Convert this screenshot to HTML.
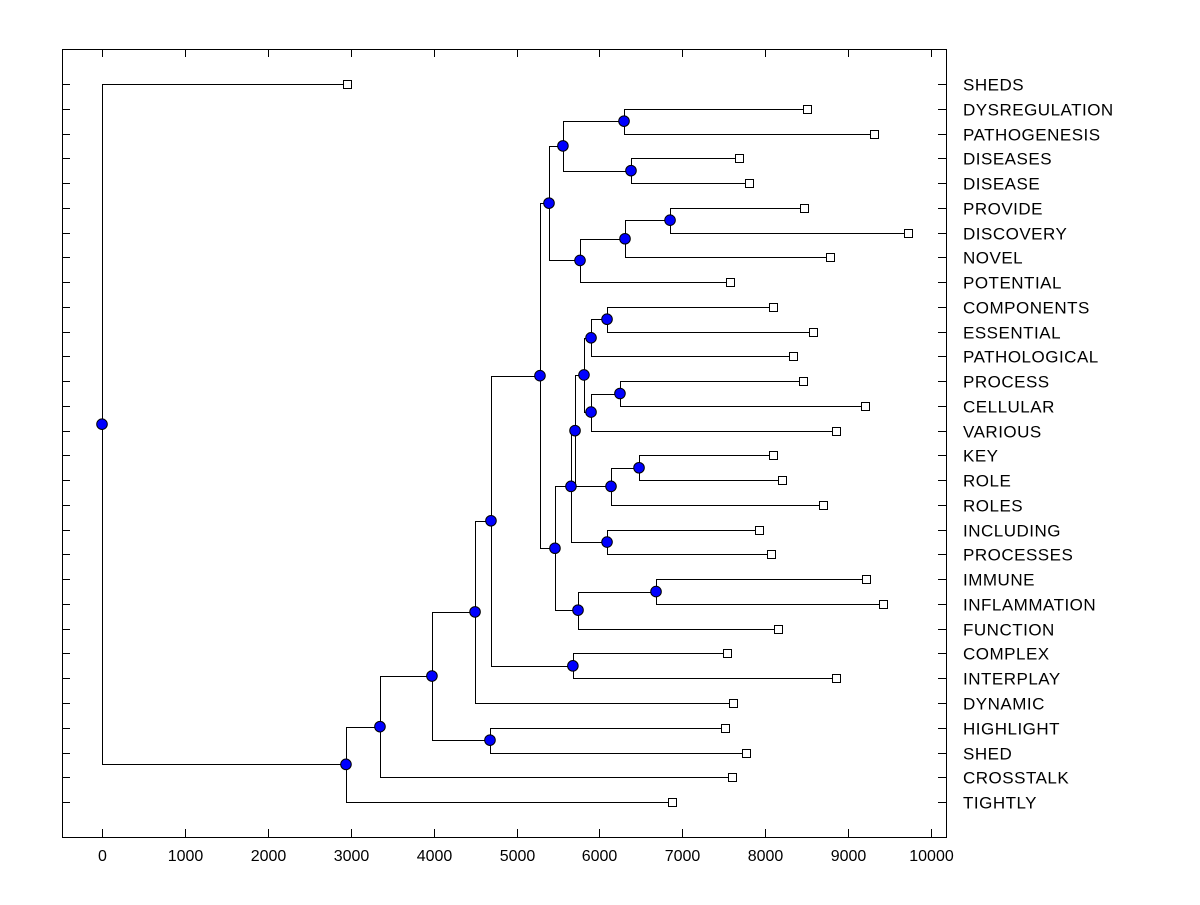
<!DOCTYPE html>
<html><head><meta charset="utf-8"><style>
body{margin:0;background:#fff;}
svg text{font-family:"Liberation Sans",Arial,sans-serif;font-size:16px;fill:#000;}
svg text.leaf{font-size:17px;letter-spacing:0.5px;}
</style></head><body>
<svg id="chart" width="1200" height="900" xmlns="http://www.w3.org/2000/svg"></svg>
<script>
const leafNames=["SHEDS","DYSREGULATION","PATHOGENESIS","DISEASES","DISEASE","PROVIDE","DISCOVERY","NOVEL","POTENTIAL","COMPONENTS","ESSENTIAL","PATHOLOGICAL","PROCESS","CELLULAR","VARIOUS","KEY","ROLE","ROLES","INCLUDING","PROCESSES","IMMUNE","INFLAMMATION","FUNCTION","COMPLEX","INTERPLAY","DYNAMIC","HIGHLIGHT","SHED","CROSSTALK","TIGHTLY"];
const leafValues=[2950,8500,9310,7680,7810,8470,9720,8780,7580,8090,8580,8330,8450,9200,8850,8100,8200,8700,7920,8070,9210,9420,8150,7540,8850,7610,7520,7770,7600,6870];
// internal nodes: id, value, children (L# = leaf index, N# = node id)
const nodeIds=["M","N","K","P","O","L","I","AA","Y","BB","Z","X","W","V","T","U","Q","S","R","J","G","H","F","D","E","C","B","A","ROOT"];
const nodeValues=[6297,6381,5560,6852,6309,5766,5392,6092,5899,6248,5899,5814,6478,6140,5706,6092,5657,6683,5742,5464,5283,5680,4692,4500,4680,3980,3353,2943,0];
const nodeChildren=[["L1","L2"],["L3","L4"],["NM","NN"],["L5","L6"],["NP","L7"],["NO","L8"],["NK","NL"],["L9","L10"],["NAA","L11"],["L12","L13"],["NBB","L14"],["NY","NZ"],["L15","L16"],["NW","L17"],["NX","NV"],["L18","L19"],["NT","NU"],["L20","L21"],["NS","L22"],["NQ","NR"],["NI","NJ"],["L23","L24"],["NG","NH"],["NF","L25"],["L26","L27"],["ND","NE"],["NC","L28"],["NB","L29"],["L0","NA"]];
const xTicks=[0,1000,2000,3000,4000,5000,6000,7000,8000,9000,10000];

const svg=document.getElementById('chart');
const NS="http://www.w3.org/2000/svg";
const X0=62,X1=946,Y0=49,Y1=837;
const xs=v=>102+v*0.0829;
const ys=i=>84+i*24.76;
function mk(tag,attrs,parent){const e=document.createElementNS(NS,tag);for(const k in attrs)e.setAttribute(k,attrs[k]);(parent||svg).appendChild(e);return e;}
const lines=mk('g',{stroke:'#000','stroke-width':1,fill:'none'});


const axis=mk('g',{stroke:'#000','stroke-width':1,fill:'none'});


const frame=mk('rect',{x:X0+0.5,y:Y0+0.5,width:X1-X0,height:Y1-Y0},axis);


xTicks.forEach(t=>{const x=Math.round(xs(t))+0.5;
 mk('line',{x1:x,x2:x,y1:Y1,y2:Y1-8},axis);mk('line',{x1:x,x2:x,y1:Y0,y2:Y0+8},axis);
 const tx=mk('text',{x:x,y:861,'text-anchor':'middle'});tx.textContent=t;
 
 });
leafNames.forEach((n,i)=>{const y=Math.round(ys(i))+0.5;
 mk('line',{x1:X0,x2:X0+8,y1:y,y2:y},axis);mk('line',{x1:X1-8,x2:X1,y1:y,y2:y},axis);
 const tx=mk('text',{x:963,y:y+6,'class':'leaf'});tx.textContent=n;
 
 });
const pos={};
leafValues.forEach((v,i)=>pos['L'+i]={x:xs(v),y:ys(i)});
nodeIds.forEach((id,k)=>{const c=nodeChildren[k].map(r=>pos[r]);pos['N'+id]={x:xs(nodeValues[k]),y:(c[0].y+c[1].y)/2,c:c};});
const marks=mk('g',{});
nodeIds.forEach(id=>{const p=pos['N'+id];const px=Math.round(p.x)+0.5;
 const a=Math.round(p.c[0].y)+0.5,b=Math.round(p.c[1].y)+0.5;
 mk('polyline',{points:`${Math.round(p.c[0].x)+0.5},${a} ${px},${a} ${px},${b} ${Math.round(p.c[1].x)+0.5},${b}`},lines);});
nodeIds.forEach(id=>{const p=pos['N'+id];
 const c=mk('circle',{cx:p.x,cy:p.y,r:5.3,fill:'#0000ff',stroke:'#000','stroke-width':1},marks);
 
 });
leafValues.forEach((v,i)=>{const p=pos['L'+i];
 const r=mk('rect',{x:Math.round(p.x)-3.5,y:Math.round(p.y)-3.5,width:8,height:8,fill:'#fff',stroke:'#000'},marks);
 
 });
</script>
</body></html>
